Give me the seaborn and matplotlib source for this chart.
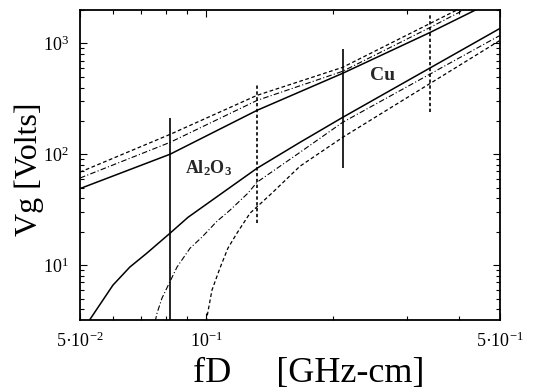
import numpy as np
import pandas as pd
import seaborn as sns
import matplotlib.pyplot as plt
from matplotlib.ticker import FixedLocator, NullFormatter

# curves (fD in GHz-cm, Vg in Volts)
fd_cu_solid = [0.050, 0.0819, 0.132, 0.211, 0.341, 0.46]
vg_cu_solid = [49, 100, 249, 537, 1256, 2200]
fd_cu_dash = [0.050, 0.0819, 0.132, 0.211, 0.341, 0.42]
vg_cu_dash = [69, 151, 340, 608, 1514, 2250]
fd_cu_dashdot = [0.050, 0.0819, 0.132, 0.211, 0.341, 0.43]
vg_cu_dashdot = [61, 128, 306, 560, 1393, 2200]

fd_al_solid = [0.0524, 0.0599, 0.0657, 0.0721, 0.0819, 0.0904, 0.132, 0.167, 0.211, 0.50]
vg_al_solid = [3.1, 6.6, 9.6, 12.8, 19.4, 27, 74.8, 128, 215, 1365]
fd_al_dashdot = [0.0755, 0.0763, 0.0784, 0.0851, 0.0914, 0.0976, 0.106, 0.1138, 0.1256,
                 0.132, 0.167, 0.211, 0.50]
vg_al_dashdot = [3.1, 3.7, 5.05, 9.6, 14.2, 17.9, 24.9, 31.3, 44.6, 56, 104, 194, 1180]
fd_al_dash = [0.0997, 0.1003, 0.1031, 0.1077, 0.1125, 0.1182, 0.127, 0.1432, 0.167, 0.211, 0.50]
vg_al_dash = [3.1, 3.4, 5.96, 9.4, 14.2, 19.4, 29.4, 44.6, 78, 142, 1064]

# vertical markers
vline_fd = [0.0819, 0.132, 0.211, 0.341]
vline_lo = [2.9, 23.9, 74.8, 239]
vline_hi = [211, 419, 883, 1862]

x_ticks = [0.05, 0.1, 0.5]
x_ticklabels = ["5·10$^{-2}$", "10$^{-1}$", "5·10$^{-1}$"]
y_ticks = [10, 100, 1000]
y_ticklabels = ["10$^{1}$", "10$^{2}$", "10$^{3}$"]

sns.set_theme(style="ticks")
plt.rcParams["font.family"] = ["Liberation Serif", "DejaVu Serif"]
plt.rcParams["mathtext.fontset"] = "custom"
plt.rcParams["mathtext.rm"] = "Liberation Serif"
plt.rcParams["mathtext.bf"] = "Liberation Serif:bold"
plt.rcParams["mathtext.it"] = "Liberation Serif:italic"

fig = plt.figure(figsize=(5.39, 3.91), dpi=100)
ax = fig.add_axes([0.1484, 0.1816, 0.7792, 0.7928])

curves = [
    (fd_cu_solid, vg_cu_solid, "-", 1.1),
    (fd_cu_dash, vg_cu_dash, (0, (3, 2)), 0.9),
    (fd_cu_dashdot, vg_cu_dashdot, (0, (5, 2, 1, 2)), 0.8),
    (fd_al_solid, vg_al_solid, "-", 1.1),
    (fd_al_dashdot, vg_al_dashdot, (0, (5, 2, 1, 2)), 0.8),
    (fd_al_dash, vg_al_dash, (0, (3, 2)), 0.9),
]
for fd, vg, ls, lw in curves:
    df = pd.DataFrame({"fd": fd, "vg": vg})
    sns.lineplot(data=df, x="fd", y="vg", ax=ax, color="black", lw=lw,
                 estimator=None, sort=False, linestyle=ls)

for i, (x, lo, hi) in enumerate(zip(vline_fd, vline_lo, vline_hi)):
    ls = "-" if i % 2 == 0 else (0, (2, 1.5))
    ax.vlines(x, lo, hi, colors="black", linestyles=ls, lw=1.2)

ax.set_xscale("log")
ax.set_yscale("log")
ax.set_xlim(0.05, 0.5)
ax.set_ylim(3.2, 2000)

ax.xaxis.set_major_locator(FixedLocator(x_ticks))
ax.set_xticklabels(x_ticklabels)
ax.xaxis.set_minor_locator(FixedLocator([0.06, 0.07, 0.08, 0.09, 0.2, 0.3, 0.4]))
ax.xaxis.set_minor_formatter(NullFormatter())
ax.yaxis.set_major_locator(FixedLocator(y_ticks))
ax.set_yticklabels(y_ticklabels)
ax.tick_params(which="both", direction="in", top=True, right=True,
               labelsize=13, width=0.8, colors="black")
ax.tick_params(which="major", length=5, pad=8)
ax.tick_params(which="minor", length=3)
for sp in ax.spines.values():
    sp.set_linewidth(1.3)
    sp.set_color("black")

ax.set_xlabel("fD     [GHz-cm]", fontsize=26, color="black")
ax.xaxis.set_label_coords(0.545, -0.12)
ax.set_ylabel("Vg [Volts]", fontsize=23, color="black")
ax.yaxis.set_label_coords(-0.085, 0.487)

ax.text(0.101, 75, r"$\mathbf{Al_2O_3}$", fontsize=13, ha="center", va="center")
ax.text(0.262, 515, "Cu", fontsize=14, fontweight="bold", ha="center", va="center")

fig.savefig("out.png", dpi=100, facecolor="white")
